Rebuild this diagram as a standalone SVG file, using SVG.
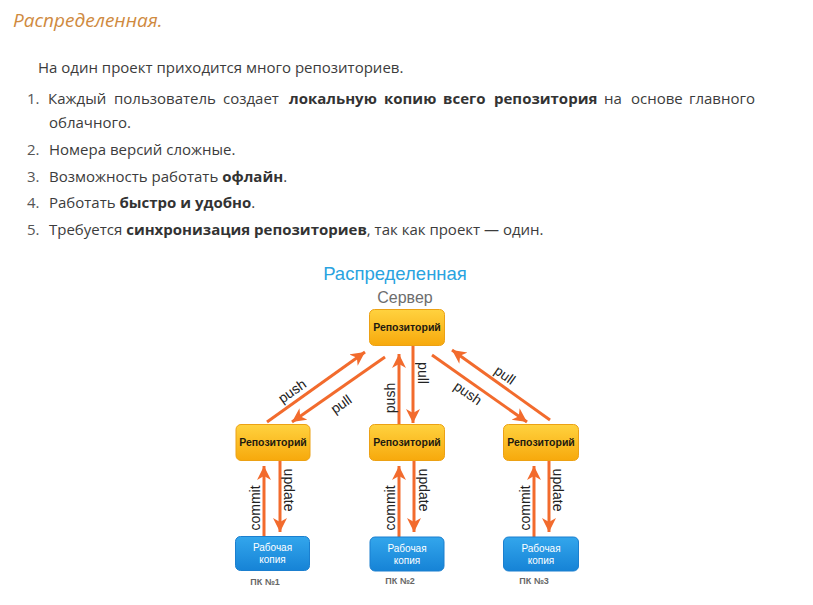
<svg xmlns="http://www.w3.org/2000/svg" width="813" height="605" viewBox="0 0 813 605">
<defs>
  <linearGradient id="gy" x1="0" y1="0" x2="0" y2="1">
    <stop offset="0" stop-color="#ffd23f"/>
    <stop offset="1" stop-color="#f7a90c"/>
  </linearGradient>
  <linearGradient id="gb" x1="0" y1="0" x2="0" y2="1">
    <stop offset="0" stop-color="#33a6ec"/>
    <stop offset="1" stop-color="#1683d6"/>
  </linearGradient>
  <marker id="ah" markerUnits="userSpaceOnUse" markerWidth="16" markerHeight="16" refX="14" refY="7" orient="auto">
    <path d="M0,0 L14,7 L0,14 L4,7 z" fill="#f26b2d"/>
  </marker>
</defs>
<style>
  .t { font-family: "Open Sans", "Liberation Sans", sans-serif; font-size: 15px; fill: #3c3c3c; }
  .b { font-weight: 700; fill: #333; }
  .n { fill: #555; }
  .ttl { font-family: "Open Sans", "Liberation Sans", sans-serif; font-style: italic; font-size: 19px; fill: #cf8a3e; }
  .dt { font-family: "Liberation Sans", Arial, sans-serif; }
  .ny rect { fill: url(#gy); stroke: #eca114; stroke-width: 1; }
  .nb rect { fill: url(#gb); stroke: #1b7fcf; stroke-width: 1; }
  .ny text { font-family: "Liberation Sans", Arial, sans-serif; font-weight: 700; font-size: 10.5px; fill: #1e1a10; text-anchor: middle; }
  .nb text { font-family: "Liberation Sans", Arial, sans-serif; font-size: 10px; fill: #ffffff; text-anchor: middle; }
  .pc { font-family: "Liberation Sans", Arial, sans-serif; font-weight: 700; font-size: 9px; fill: #666; text-anchor: middle; }
  .c line { stroke: #f26b2d; stroke-width: 3; marker-end: url(#ah); }
  .lb { font-family: "Liberation Sans", Arial, sans-serif; font-size: 14px; fill: #222; text-anchor: middle; dominant-baseline: central; }
</style>
<rect width="813" height="605" fill="#ffffff"/>

<!-- Page text -->
<g id="page-text">
  <text class="ttl" x="13" y="27">Распределенная.</text>
  <text class="t" x="38" y="73">На один проект приходится много репозиториев.</text>
  <text class="t n" x="27" y="104">1.</text>
  <g id="line1">
    <text class="t" x="48" y="104">Каждый</text>
    <text class="t" x="114" y="104">пользователь</text>
    <text class="t" x="223" y="104">создает</text>
    <text class="t b" x="289" y="104">локальную</text>
    <text class="t b" x="384" y="104">копию</text>
    <text class="t b" x="443" y="104">всего</text>
    <text class="t b" x="494" y="104">репозитория</text>
    <text class="t" x="604" y="104">на</text>
    <text class="t" x="631" y="104">основе</text>
    <text class="t" x="755" y="104" text-anchor="end">главного</text>
  </g>
  <text class="t" x="49" y="128">облачного.</text>
  <text class="t n" x="27" y="155">2.</text>
  <text class="t" x="49" y="155">Номера версий сложные.</text>
  <text class="t n" x="27" y="182">3.</text>
  <text class="t" x="49" y="182">Возможность работать <tspan class="b">офлайн</tspan>.</text>
  <text class="t n" x="27" y="208">4.</text>
  <text class="t" x="49" y="208">Работать <tspan class="b">быстро и удобно</tspan>.</text>
  <text class="t n" x="27" y="235">5.</text>
  <text class="t" x="49" y="235">Требуется <tspan class="b">синхронизация репозиториев</tspan>, так как проект — один.</text>
</g>

<!-- Diagram headings -->
<g id="diagram-titles">
  <text class="dt" x="395" y="280" font-size="18.5" fill="#2aa3e0" text-anchor="middle">Распределенная</text>
  <text class="dt" x="405" y="303" font-size="16" fill="#6d6d6d" text-anchor="middle">Сервер</text>
</g>

<!-- Connectors -->
<g id="connectors" class="c">
  <line x1="267" y1="422" x2="365" y2="352"/>
  <line x1="385" y1="357" x2="292" y2="422"/>
  <line x1="399" y1="424" x2="399" y2="354"/>
  <line x1="413" y1="346" x2="413" y2="423"/>
  <line x1="432" y1="355" x2="527" y2="422"/>
  <line x1="550" y1="420" x2="452" y2="350"/>
  <line x1="264" y1="537" x2="264" y2="466"/>
  <line x1="280" y1="461" x2="280" y2="532"/>
  <line x1="399" y1="537" x2="399" y2="466"/>
  <line x1="414" y1="461" x2="414" y2="532"/>
  <line x1="534" y1="537" x2="534" y2="466"/>
  <line x1="549" y1="461" x2="549" y2="532"/>
</g>

<!-- Connector labels -->
<g id="connector-labels">
  <text class="lb" transform="translate(292,391) rotate(-35)">push</text>
  <text class="lb" transform="translate(341,404) rotate(-35)">pull</text>
  <text class="lb" transform="translate(390,398) rotate(-90)">push</text>
  <text class="lb" transform="translate(423,373) rotate(90)">pull</text>
  <text class="lb" transform="translate(505,375) rotate(35)">pull</text>
  <text class="lb" transform="translate(468,393) rotate(35)">push</text>
  <text class="lb" transform="translate(255,508) rotate(-90)">commit</text>
  <text class="lb" transform="translate(289,490) rotate(90)">update</text>
  <text class="lb" transform="translate(390,508) rotate(-90)">commit</text>
  <text class="lb" transform="translate(424,490) rotate(90)">update</text>
  <text class="lb" transform="translate(525,508) rotate(-90)">commit</text>
  <text class="lb" transform="translate(558,490) rotate(90)">update</text>
</g>

<!-- Nodes -->
<g id="server-repo" class="ny">
  <rect x="369.5" y="309.5" width="75" height="36" rx="5"/>
  <text x="407" y="331">Репозиторий</text>
</g>
<g id="repo-1" class="ny">
  <rect x="236" y="424.5" width="74" height="36" rx="5"/>
  <text x="273" y="446">Репозиторий</text>
</g>
<g id="repo-2" class="ny">
  <rect x="369.5" y="424.5" width="75" height="36" rx="5"/>
  <text x="407" y="446">Репозиторий</text>
</g>
<g id="repo-3" class="ny">
  <rect x="503.5" y="424.5" width="75" height="36" rx="5"/>
  <text x="541" y="446">Репозиторий</text>
</g>
<g id="wc-1" class="nb">
  <rect x="235.5" y="536.5" width="74" height="34" rx="5"/>
  <text x="272.5" y="551">Рабочая</text>
  <text x="272.5" y="563">копия</text>
</g>
<g id="wc-2" class="nb">
  <rect x="370" y="537" width="74" height="34" rx="5"/>
  <text x="407" y="552">Рабочая</text>
  <text x="407" y="564">копия</text>
</g>
<g id="wc-3" class="nb">
  <rect x="503.5" y="537" width="75" height="34" rx="5"/>
  <text x="541" y="552">Рабочая</text>
  <text x="541" y="564">копия</text>
</g>
<g id="pc-labels">
  <text class="pc" x="265" y="585">ПК №1</text>
  <text class="pc" x="400" y="584">ПК №2</text>
  <text class="pc" x="534" y="584">ПК №3</text>
</g>
</svg>
